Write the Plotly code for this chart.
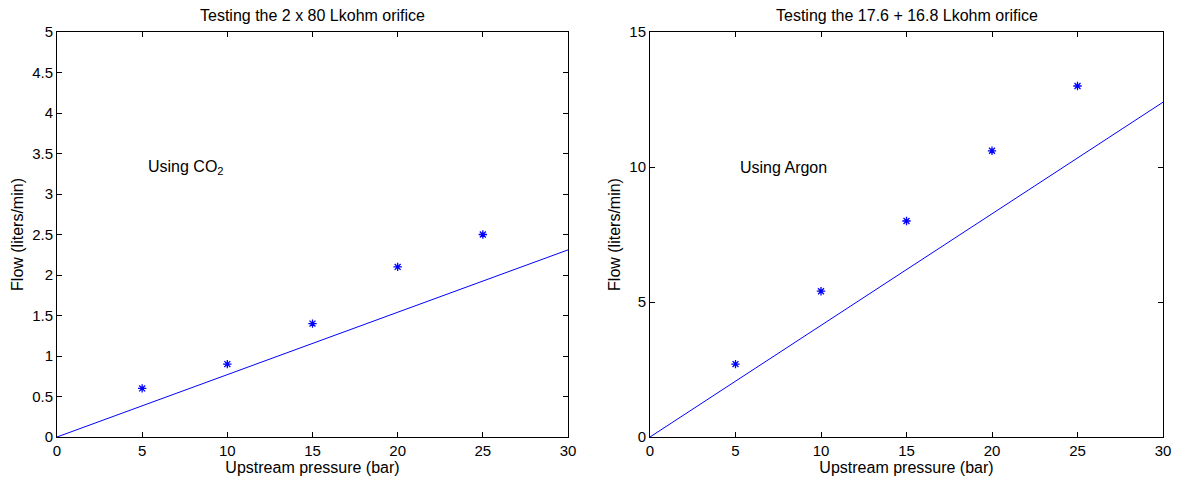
import plotly.graph_objects as go

pressure = [5, 10, 15, 20, 25]
flow_co2 = [0.6, 0.9, 1.4, 2.1, 2.5]
flow_argon = [2.7, 5.4, 8.0, 10.6, 13.0]
fit_x = [0, 30]
fit_co2 = [0, 2.31]
fit_argon = [0, 12.4]

titles = ["Testing the 2 x 80 Lkohm orifice", "Testing the 17.6 + 16.8 Lkohm orifice"]
labels = ["Using CO<sub>2</sub>", "Using Argon"]

fig = go.Figure()
blue = "#0000FF"
fam = "Liberation Sans, Arial, sans-serif"
font = dict(family=fam, size=15, color="black")

mk = dict(symbol="asterisk-open", size=7, color=blue, line=dict(color=blue, width=1.3))
fig.add_trace(go.Scatter(x=fit_x, y=fit_co2, mode="lines", line=dict(color=blue, width=1), xaxis="x", yaxis="y"))
fig.add_trace(go.Scatter(x=pressure, y=flow_co2, mode="markers", marker=mk, xaxis="x", yaxis="y"))
fig.add_trace(go.Scatter(x=fit_x, y=fit_argon, mode="lines", line=dict(color=blue, width=1), xaxis="x2", yaxis="y2"))
fig.add_trace(go.Scatter(x=pressure, y=flow_argon, mode="markers", marker=mk, xaxis="x2", yaxis="y2"))

axcommon = dict(showgrid=False, zeroline=False, showline=True, linecolor="black", linewidth=1,
                mirror="allticks", ticks="inside", ticklen=5, tickcolor="black",
                tickfont=font, automargin=False)

titlefont = dict(family=fam, size=16, color="black")
yd = [1 - 437/480, 1 - 32/480]
fig.update_layout(
    width=1177, height=480, margin=dict(l=0, r=0, t=0, b=0),
    paper_bgcolor="white", plot_bgcolor="white", showlegend=False, font=font,
    xaxis=dict(domain=[57/1177, 568/1177], range=[0, 30], dtick=5, anchor="y",
               title=dict(text="Upstream pressure (bar)", font=titlefont, standoff=0), **axcommon),
    yaxis=dict(domain=yd, range=[0, 5], dtick=0.5, anchor="x",
               title=dict(text="Flow (liters/min)", font=titlefont, standoff=4), **axcommon),
    xaxis2=dict(domain=[650/1177, 1163/1177], range=[0, 30], dtick=5, anchor="y2",
                title=dict(text="Upstream pressure (bar)", font=titlefont, standoff=0), **axcommon),
    yaxis2=dict(domain=yd, range=[0, 15], dtick=5, anchor="x2",
                title=dict(text="Flow (liters/min)", font=titlefont, standoff=4), **axcommon),
)

fig.add_annotation(x=5.2, y=3.33, xref="x", yref="y", text=labels[0], showarrow=False,
                   xanchor="left", yanchor="middle", font=dict(family=fam, size=16))
fig.add_annotation(x=5.15, y=10.0, xref="x2", yref="y2", text=labels[1], showarrow=False,
                   xanchor="left", yanchor="middle", font=dict(family=fam, size=16))
fig.add_annotation(x=(57+568)/2/1177, y=1 - 15/480, xref="paper", yref="paper", text=titles[0],
                   showarrow=False, xanchor="center", yanchor="middle", font=dict(family=fam, size=16))
fig.add_annotation(x=(650+1163)/2/1177, y=1 - 15/480, xref="paper", yref="paper", text=titles[1],
                   showarrow=False, xanchor="center", yanchor="middle", font=dict(family=fam, size=16))

fig.write_html("out.html")
